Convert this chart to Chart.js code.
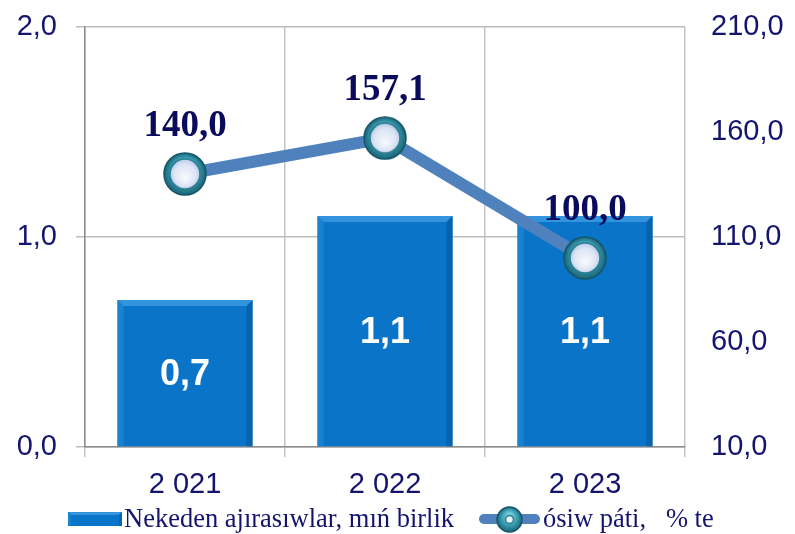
<!DOCTYPE html>
<html>
<head>
<meta charset="utf-8">
<script src="https://cdn.jsdelivr.net/npm/chart.js@4.4.0/dist/chart.umd.min.js"></script>
<style>
  html, body { margin: 0; padding: 0; background: #fff; }
  canvas { display: block; }
</style>
</head>
<body>
<canvas id="chart" width="795" height="534"></canvas>
<script>
const years = ['2 021', '2 022', '2 023'];
const separations = [0.7, 1.1, 1.1];
const growthRate = [140.0, 157.1, 100.0];
const leftTicks = [0, 1, 2];
const rightTicks = [10, 60, 110, 160, 210];
const seriesNames = ['Nekeden ajırasıwlar, mıń birlik', 'ósiw páti,   % te'];

const navy = '#14146E';
const barBlue = '#0A75C8';
const lineBlue = '#4F81BD';

const fmt = v => v.toFixed(1).replace('.', ',');

// glossy teal marker used for the line points
function makeMarker(size, innerR) {
    const c = document.createElement('canvas');
    c.width = size; c.height = size;
    const g = c.getContext('2d');
    const m = size / 2, r = m - 1;
    let grad = g.createRadialGradient(m, m - r * 0.4, 1, m, m, r);
    grad.addColorStop(0, '#7FD3E0');
    grad.addColorStop(0.6, '#3A9DB2');
    grad.addColorStop(1, '#1B6577');
    g.beginPath(); g.arc(m, m, r, 0, Math.PI * 2);
    g.fillStyle = grad; g.fill();
    g.lineWidth = 1.5; g.strokeStyle = '#17566A'; g.stroke();
    grad = g.createRadialGradient(m, m + innerR * 0.3, 1, m, m, innerR);
    grad.addColorStop(0, '#F6F8FD');
    grad.addColorStop(0.7, '#DCE5F5');
    grad.addColorStop(1, '#B9CBE6');
    g.beginPath(); g.arc(m, m, innerR, 0, Math.PI * 2);
    g.fillStyle = grad; g.fill();
    g.lineWidth = 1.5; g.strokeStyle = '#2C7F93'; g.stroke();
    return c;
}
const marker = makeMarker(44, 15);

function bevel(ctx, L, T, R, B, b) {
    ctx.fillStyle = '#3393DC';
    ctx.beginPath(); ctx.moveTo(L, T); ctx.lineTo(R, T); ctx.lineTo(R - b, T + b); ctx.lineTo(L + b, T + b); ctx.closePath(); ctx.fill();
    ctx.fillStyle = '#1983D2';
    ctx.beginPath(); ctx.moveTo(L, T); ctx.lineTo(L + b, T + b); ctx.lineTo(L + b, B); ctx.lineTo(L, B); ctx.closePath(); ctx.fill();
    ctx.fillStyle = '#0763AC';
    ctx.beginPath(); ctx.moveTo(R, T); ctx.lineTo(R - b, T + b); ctx.lineTo(R - b, B); ctx.lineTo(R, B); ctx.closePath(); ctx.fill();
}

const barBevel = {
    id: 'barBevel',
    afterDatasetDraw(chart, args) {
        if (args.index !== 0) return;
        const ctx = chart.ctx;
        ctx.save();
        args.meta.data.forEach(bar => {
            const L = bar.x - bar.width / 2, R = bar.x + bar.width / 2;
            bevel(ctx, L, bar.y, R, bar.base, 6);
        });
        ctx.restore();
    }
};

const valueLabels = {
    id: 'valueLabels',
    afterDatasetsDraw(chart) {
        const ctx = chart.ctx;
        ctx.save();
        ctx.textAlign = 'center';
        ctx.textBaseline = 'middle';
        ctx.font = 'bold 36px "Liberation Sans", Arial, sans-serif';
        ctx.fillStyle = '#ffffff';
        chart.getDatasetMeta(0).data.forEach((bar, i) => {
            ctx.fillText(fmt(separations[i]), bar.x, (bar.y + bar.base) / 2 + 2);
        });
        ctx.font = 'bold 37px "Liberation Serif", "Times New Roman", serif';
        ctx.fillStyle = '#0B0B5E';
        chart.getDatasetMeta(1).data.forEach((pt, i) => {
            ctx.fillText(fmt(growthRate[i]), pt.x, pt.y - 48);
        });
        ctx.restore();
    }
};

const bottomLegend = {
    id: 'bottomLegend',
    afterDraw(chart) {
        const ctx = chart.ctx;
        const y = 519;
        ctx.save();
        // bar swatch
        ctx.fillStyle = barBlue;
        ctx.fillRect(68, y - 7, 54, 14);
        bevel(ctx, 68, y - 7, 122, y + 7, 3);
        // line swatch
        ctx.strokeStyle = lineBlue;
        ctx.lineWidth = 10;
        ctx.lineCap = 'round';
        ctx.beginPath(); ctx.moveTo(484, y); ctx.lineTo(535, y); ctx.stroke();
        ctx.drawImage(makeMarker(27, 4), 496, y - 13);
        // texts
        ctx.font = '26.5px "Liberation Serif", "Times New Roman", serif';
        ctx.textBaseline = 'middle';
        ctx.fillStyle = navy;
        ctx.fillText(chart.data.datasets[0].label, 124, y + 1);
        ctx.fillText(chart.data.datasets[1].label, 543, y + 1);
        ctx.restore();
    }
};

const tickFont = { family: '"Liberation Sans", Arial, sans-serif', size: 29 };

const config = {
    type: 'bar',
    data: {
        labels: years,
        datasets: [{
            type: 'bar',
            label: seriesNames[0],
            data: separations,
            yAxisID: 'y',
            backgroundColor: barBlue,
            borderWidth: 0,
            barPercentage: 0.9,
            categoryPercentage: 0.75,
            order: 2
        }, {
            type: 'line',
            label: seriesNames[1],
            data: growthRate,
            yAxisID: 'y1',
            borderColor: lineBlue,
            borderWidth: 12,
            pointStyle: marker,
            pointRadius: 22,
            pointHoverRadius: 22,
            tension: 0,
            order: 1
        }]
    },
    options: {
        responsive: false,
        animation: false,
        layout: { autoPadding: false, padding: { top: 27, left: 0, right: 0, bottom: 0 } },
        scales: {
            x: {
                grid: { offset: true, color: '#C4C4C4', lineWidth: 1.5, tickLength: 10 },
                border: { color: '#8C8C8C', width: 1.5 },
                ticks: { color: navy, font: tickFont, padding: 11, maxRotation: 0 },
                afterFit: s => { s.height = 87; s.paddingLeft = 0; s.paddingRight = 0; }
            },
            y: {
                position: 'left',
                min: 0,
                max: 2,
                afterBuildTicks: s => { s.ticks = leftTicks.map(v => ({ value: v })); },
                grid: { color: '#BDBDBD', lineWidth: 1.5, tickLength: 9 },
                border: { color: '#8C8C8C', width: 1.5 },
                ticks: { color: navy, font: tickFont, padding: 19, callback: v => fmt(v) },
                afterFit: s => { s.width = 85; s.paddingTop = 0; s.paddingBottom = 0; }
            },
            y1: {
                position: 'right',
                min: 10,
                max: 210,
                afterBuildTicks: s => { s.ticks = rightTicks.map(v => ({ value: v })); },
                grid: { display: false, drawTicks: false, tickLength: 0 },
                border: { display: false },
                ticks: { color: navy, font: tickFont, padding: 26, callback: v => fmt(v) },
                afterFit: s => { s.width = 110; s.paddingTop = 0; s.paddingBottom = 0; }
            }
        },
        plugins: {
            legend: { display: false },
            tooltip: { enabled: false }
        }
    },
    plugins: [barBevel, valueLabels, bottomLegend]
};

const chart = new Chart(document.getElementById('chart'), config);
</script>
</body>
</html>
